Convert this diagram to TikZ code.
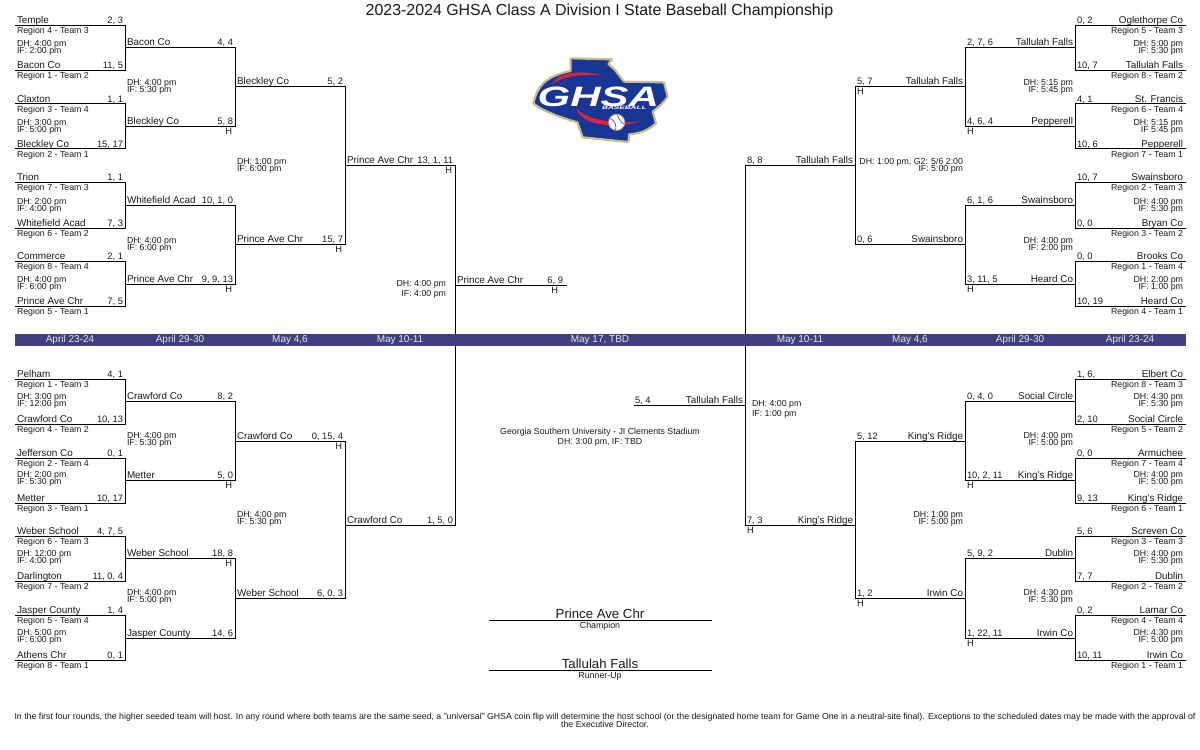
\documentclass[tikz,border=0pt]{standalone}
\usepackage{fontspec}
\setmainfont{Liberation Sans}
\newcounter{nid}
\definecolor{bandc}{RGB}{64,64,128}
\definecolor{ltan}{RGB}{200,188,135}
\definecolor{lblue}{RGB}{24,54,150}
\definecolor{lred}{RGB}{225,35,55}
\tikzset{
  x=0.75pt,y=-0.75pt,
  wire/.style={draw=black,line width=0.8pt,line cap=rect},
  lbl/.style={inner sep=0pt,outer sep=0pt,font=\fontsize{6.6}{7}\selectfont,text=black!90},
  teamt/.style={lbl,font=\fontsize{7.4}{8}\selectfont},
  scoret/.style={lbl,font=\fontsize{7}{8}\selectfont},
  bandtxt/.style={lbl,font=\fontsize{7.5}{8}\selectfont,text=white!90!black,anchor=center},
  big/.style={lbl,font=\fontsize{9.9}{10}\selectfont,anchor=base},
}
\newcommand\Lab[5][lbl]{\stepcounter{nid}\node[#1,anchor=#4] (n\thenid) at (#2,#3) {#5};}
% bracket: two horizontals joined by a vertical
\newcommand\Bk[5]{%
  \coordinate (#1a) at (#2+0.5,#4+0.4);\coordinate (#1b) at (#3+0.5,#4+0.4);
  \coordinate (#1c) at (#3+0.5,#5+0.4);\coordinate (#1d) at (#2+0.5,#5+0.4);
  \draw[wire] (#1a) -- (#1b) -- (#1c) -- (#1d);}
% left-side entry: x y team score
\newcommand\LE[4]{\Lab[teamt]{#1+2}{#2-2}{base west}{#3}\Lab[scoret]{#1+108}{#2-2}{base east}{#4}}
% right-side entry: x(right end) y team score
\newcommand\RE[4]{\Lab[teamt]{#1-2}{#2-2}{base east}{#3}\Lab[scoret]{#1-108}{#2-2}{base west}{#4}}
\newcommand\LH[2]{\Lab[scoret]{#1+107}{#2+8}{base east}{H}}
\newcommand\RH[2]{\Lab[scoret]{#1-108}{#2+8}{base west}{H}}
\newcommand\LR[3]{\Lab{#1+2}{#2+8}{base west}{#3}}
\newcommand\RR[3]{\Lab{#1-2}{#2+8}{base east}{#3}}
% time note: x y(dh baseline) anchor dh if
\newcommand\NT[5]{\Lab{#1}{#2}{base #3}{#4}\Lab{#1}{#2+7}{base #3}{#5}}
\begin{document}
\begin{tikzpicture}
\useasboundingbox (0,0) rectangle (1200,750);
\node[lbl,font=\fontsize{11.95}{13}\selectfont,anchor=base] (title) at (599.5,15) {2023-2024 GHSA Class A Division I State Baseball Championship};

% ---------- left top
\Bk{a1}{15}{125}{25}{70}\Bk{a2}{15}{125}{103}{148}\Bk{a3}{15}{125}{182}{228}\Bk{a4}{15}{125}{261}{306}
\LE{15}{25}{Temple}{2, 3}\LR{15}{25}{Region 4 - Team 3}
\LE{15}{70}{Bacon Co}{11, 5}\LR{15}{70}{Region 1 - Team 2}
\NT{17}{46}{west}{DH: 4:00 pm}{IF: 2:00 pm}
\LE{15}{104}{Claxton}{1, 1}\LR{15}{104}{Region 3 - Team 4}
\LE{15}{149}{Bleckley Co}{15, 17}\LR{15}{149}{Region 2 - Team 1}
\NT{17}{125}{west}{DH: 3:00 pm}{IF: 5:00 pm}
\LE{15}{182}{Trion}{1, 1}\LR{15}{182}{Region 7 - Team 3}
\LE{15}{228}{Whitefield Acad}{7, 3}\LR{15}{228}{Region 6 - Team 2}
\NT{17}{204}{west}{DH: 2:00 pm}{IF: 4:00 pm}
\LE{15}{261}{Commerce}{2, 1}\LR{15}{261}{Region 8 - Team 4}
\LE{15}{306}{Prince Ave Chr}{7, 5}\LR{15}{306}{Region 5 - Team 1}
\NT{17}{282}{west}{DH: 4:00 pm}{IF: 6:00 pm}
\Bk{a5}{125}{235}{47}{126}\Bk{a6}{125}{235}{205}{284}
\LE{125}{47}{Bacon Co}{4, 4}
\LE{125}{126}{Bleckley Co}{5, 8}\LH{125}{126}
\NT{127}{85}{west}{DH: 4:00 pm}{IF: 5:30 pm}
\LE{125}{205}{Whitefield Acad}{10, 1, 0}
\LE{125}{284}{Prince Ave Chr}{9, 9, 13}\LH{125}{284}
\NT{127}{243}{west}{DH: 4:00 pm}{IF: 6:00 pm}
\Bk{a7}{235}{345}{86}{244}
\LE{235}{86}{Bleckley Co}{5, 2}
\LE{235}{244}{Prince Ave Chr}{15, 7}\LH{235}{244}
\NT{237}{164}{west}{DH: 1:00 pm}{IF: 6:00 pm}
\LE{345}{165}{Prince Ave Chr}{13, 1, 11}\LH{345}{165}

% ---------- left bottom
\Bk{b1}{15}{125}{379}{424}\Bk{b2}{15}{125}{458}{503}\Bk{b3}{15}{125}{536}{581}\Bk{b4}{15}{125}{615}{660}
\LE{15}{379}{Pelham}{4, 1}\LR{15}{379}{Region 1 - Team 3}
\LE{15}{424}{Crawford Co}{10, 13}\LR{15}{424}{Region 4 - Team 2}
\NT{17}{399}{west}{DH: 3:00 pm}{IF: 12:00 pm}
\LE{15}{458}{Jefferson Co}{0, 1}\LR{15}{458}{Region 2 - Team 4}
\LE{15}{503}{Metter}{10, 17}\LR{15}{503}{Region 3 - Team 1}
\NT{17}{477}{west}{DH: 2:00 pm}{IF: 5:30 pm}
\LE{15}{536}{Weber School}{4, 7, 5}\LR{15}{536}{Region 6 - Team 3}
\LE{15}{581}{Darlington}{11, 0, 4}\LR{15}{581}{Region 7 - Team 2}
\NT{17}{556}{west}{DH: 12:00 pm}{IF: 4:00 pm}
\LE{15}{615}{Jasper County}{1, 4}\LR{15}{615}{Region 5 - Team 4}
\LE{15}{660}{Athens Chr}{0, 1}\LR{15}{660}{Region 8 - Team 1}
\NT{17}{635}{west}{DH: 5:00 pm}{IF: 6:00 pm}
\Bk{b5}{125}{235}{401}{480}\Bk{b6}{125}{235}{558}{638}
\LE{125}{401}{Crawford Co}{8, 2}
\LE{125}{480}{Metter}{5, 0}\LH{125}{480}
\NT{127}{438}{west}{DH: 4:00 pm}{IF: 5:30 pm}
\LE{125}{558}{Weber School}{18, 8}\LH{125}{558}
\LE{125}{638}{Jasper County}{14, 6}
\NT{127}{595}{west}{DH: 4:00 pm}{IF: 5:00 pm}
\Bk{b7}{235}{345}{441}{598}
\LE{235}{441}{Crawford Co}{0, 15, 4}\LH{235}{441}
\LE{235}{598}{Weber School}{6, 0, 3}
\NT{237}{517.5}{west}{DH: 4:00 pm}{IF: 5:30 pm}
\LE{345}{525}{Crawford Co}{1, 5, 0}

% ---------- left semifinal and final slot
\Bk{c1}{345}{455}{165}{525}
\coordinate (f1a) at (455.5,285.4);\coordinate (f1b) at (566,285.4);
\draw[wire] (f1a) -- (f1b);
\LE{455}{285}{Prince Ave Chr}{6, 9}
\Lab[scoret]{558}{293}{base east}{H}
\Lab{446}{286}{base east}{DH: 4:00 pm}
\Lab{446}{296}{base east}{IF: 4:00 pm}

% ---------- right top
\Bk{d1}{1185}{1075}{25}{70}\Bk{d2}{1185}{1075}{103}{148}\Bk{d3}{1185}{1075}{182}{228}\Bk{d4}{1185}{1075}{261}{306}
\RE{1185}{25}{Oglethorpe Co}{0, 2}\RR{1185}{25}{Region 5 - Team 3}
\RE{1185}{70}{Tallulah Falls}{10, 7}\RR{1185}{70}{Region 8 - Team 2}
\NT{1183}{46}{east}{DH: 5:00 pm}{IF: 5:30 pm}
\RE{1185}{104}{St. Francis}{4, 1}\RR{1185}{104}{Region 6 - Team 4}
\RE{1185}{149}{Pepperell}{10, 6}\RR{1185}{149}{Region 7 - Team 1}
\NT{1183}{125}{east}{DH: 5:15 pm}{IF 5:45 pm}
\RE{1185}{182}{Swainsboro}{10, 7}\RR{1185}{182}{Region 2 - Team 3}
\RE{1185}{228}{Bryan Co}{0, 0}\RR{1185}{228}{Region 3 - Team 2}
\NT{1183}{204}{east}{DH: 4:00 pm}{IF: 5:30 pm}
\RE{1185}{261}{Brooks Co}{0, 0}\RR{1185}{261}{Region 1 - Team 4}
\RE{1185}{306}{Heard Co}{10, 19}\RR{1185}{306}{Region 4 - Team 1}
\NT{1183}{282}{east}{DH: 2:00 pm}{IF: 1:00 pm}
\Bk{d5}{1075}{965}{47}{126}\Bk{d6}{1075}{965}{205}{284}
\RE{1075}{47}{Tallulah Falls}{2, 7, 6}
\RE{1075}{126}{Pepperell}{4, 6, 4}\RH{1075}{126}
\NT{1073}{85}{east}{DH: 5:15 pm}{IF: 5:45 pm}
\RE{1075}{205}{Swainsboro}{6, 1, 6}
\RE{1075}{284}{Heard Co}{3, 11, 5}\RH{1075}{284}
\NT{1073}{243}{east}{DH: 4:00 pm}{IF: 2:00 pm}
\Bk{d7}{965}{855}{86}{244}
\RE{965}{86}{Tallulah Falls}{5, 7}\RH{965}{86}
\RE{965}{244}{Swainsboro}{0, 6}
\NT{963}{164}{east}{DH: 1:00 pm, G2: 5/6 2:00}{IF: 5:00 pm}
\RE{855}{165}{Tallulah Falls}{8, 8}

% ---------- right bottom
\Bk{e1}{1185}{1075}{379}{424}\Bk{e2}{1185}{1075}{458}{503}\Bk{e3}{1185}{1075}{536}{581}\Bk{e4}{1185}{1075}{615}{660}
\RE{1185}{379}{Elbert Co}{1, 6,}\RR{1185}{379}{Region 8 - Team 3}
\RE{1185}{424}{Social Circle}{2, 10}\RR{1185}{424}{Region 5 - Team 2}
\NT{1183}{399}{east}{DH: 4:30 pm}{IF: 5:30 pm}
\RE{1185}{458}{Armuchee}{0, 0}\RR{1185}{458}{Region 7 - Team 4}
\RE{1185}{503}{King's Ridge}{9, 13}\RR{1185}{503}{Region 6 - Team 1}
\NT{1183}{477}{east}{DH: 4:00 pm}{IF: 5:00 pm}
\RE{1185}{536}{Screven Co}{5, 6}\RR{1185}{536}{Region 3 - Team 3}
\RE{1185}{581}{Dublin}{7, 7}\RR{1185}{581}{Region 2 - Team 2}
\NT{1183}{556}{east}{DH: 4:00 pm}{IF: 5:30 pm}
\RE{1185}{615}{Lamar Co}{0, 2}\RR{1185}{615}{Region 4 - Team 4}
\RE{1185}{660}{Irwin Co}{10, 11}\RR{1185}{660}{Region 1 - Team 1}
\NT{1183}{635}{east}{DH: 4:30 pm}{IF: 5:00 pm}
\Bk{e5}{1075}{965}{401}{480}\Bk{e6}{1075}{965}{558}{638}
\RE{1075}{401}{Social Circle}{0, 4, 0}
\RE{1075}{480}{King's Ridge}{10, 2, 11}\RH{1075}{480}
\NT{1073}{438}{east}{DH: 4:00 pm}{IF: 5:00 pm}
\RE{1075}{558}{Dublin}{5, 9, 2}
\RE{1075}{638}{Irwin Co}{1, 22, 11}\RH{1075}{638}
\NT{1073}{595}{east}{DH: 4:30 pm}{IF: 5:30 pm}
\Bk{e7}{965}{855}{441}{598}
\RE{965}{441}{King's Ridge}{5, 12}
\RE{965}{598}{Irwin Co}{1, 2}\RH{965}{598}
\NT{963}{517.5}{east}{DH: 1:00 pm}{IF: 5:00 pm}
\RE{855}{525}{King's Ridge}{7, 3}\RH{855}{525}

% ---------- right semifinal and final slot
\Bk{c2}{855}{745}{165}{525}
\coordinate (f2a) at (635,405.4);\coordinate (f2b) at (745.5,405.4);
\draw[wire] (f2a) -- (f2b);
\Lab[teamt]{743}{403.4}{base east}{Tallulah Falls}
\Lab[scoret]{635}{403.4}{base west}{5, 4}
\Lab{752}{406}{base west}{DH: 4:00 pm}
\Lab{752}{416}{base west}{IF: 1:00 pm}
\Lab{600}{434}{base}{Georgia Southern University - JI Clements Stadium}
\Lab{600}{444}{base}{DH: 3:00 pm, IF: TBD}

% ---------- date band
\fill[bandc] (15,334) rectangle (1186,346);
\foreach \bx/\bt [count=\bi] in {70/April 23-24,180/April 29-30,290/{May 4,6},400/May 10-11,600/{May 17, TBD},800/May 10-11,910/{May 4,6},1020/April 29-30,1130/April 23-24}{
  \node[bandtxt] (band\bi) at (\bx,340) {\bt};
}

% ---------- champion
\coordinate (ch1) at (490,620.4);\coordinate (ch2) at (711,620.4);
\coordinate (ru1) at (490,670.4);\coordinate (ru2) at (711,670.4);
\draw[wire] (ch1) -- (ch2);
\draw[wire] (ru1) -- (ru2);
\node[big] (champ) at (600,618) {Prince Ave Chr};
\node[big] (rup) at (600,668) {Tallulah Falls};
\Lab{600}{628}{base}{Champion}
\Lab{600}{678}{base}{Runner-Up}

% ---------- footnote
\Lab{605}{719}{base}{\fontsize{6.57}{7}\selectfont In the first four rounds, the higher seeded team will host. In any round where both teams are the same seed, a "universal" GHSA coin flip will determine the host school (or the designated home team for Game One in a neutral-site final). Exceptions to the scheduled dates may be made with the approval of}
\Lab{605}{727}{base}{\fontsize{6.57}{7}\selectfont the Executive Director.}

% ---------- logo (coordinates as in a 3x crop of the reference)
\begin{scope}[shift={(500,40)},x=0.25pt,y=-0.25pt]
\filldraw[fill=lblue,draw=ltan,line width=1.6pt,line join=round]
  (212,55) -- (336,58) -- (325,72) -- (345,90) -- (372,125) -- (492,127) -- (503,170)
  .. controls (485,195) and (470,205) .. (458,215) -- (468,250)
  .. controls (450,265) and (430,280) .. (388,283) -- (385,306) -- (248,292) -- (232,247)
  .. controls (190,235) and (130,215) .. (100,190)
  .. controls (110,150) and (125,110) .. (212,93) -- cycle;
\fill[lred] (155,135) .. controls (170,98) and (240,88) .. (305,106)
  .. controls (240,102) and (185,108) .. (155,135) -- cycle;
\fill[lred] (228,203) .. controls (250,235) and (330,255) .. (425,243)
  .. controls (340,268) and (245,258) .. (228,203) -- cycle;
\node[inner sep=0pt,text=white,font=\fontsize{21}{21}\bfseries\itshape\selectfont,xscale=1.5,anchor=center] (ghsa) at (295,170) {GHSA};
\node[inner sep=0pt,text=white,font=\fontsize{3.6}{4}\bfseries\itshape\selectfont,xscale=1.7,anchor=center] (bb) at (373,205) {BASEBALL};
\filldraw[fill=white,draw=ltan,line width=0.6pt] (350,247) circle (24);
\draw[lblue,line width=0.4pt] (331,235) .. controls (345,243) and (350,255) .. (347,270);
\draw[lblue,line width=0.4pt] (352,225) .. controls (358,240) and (365,250) .. (372,252);
\end{scope}
\end{tikzpicture}
\end{document}
